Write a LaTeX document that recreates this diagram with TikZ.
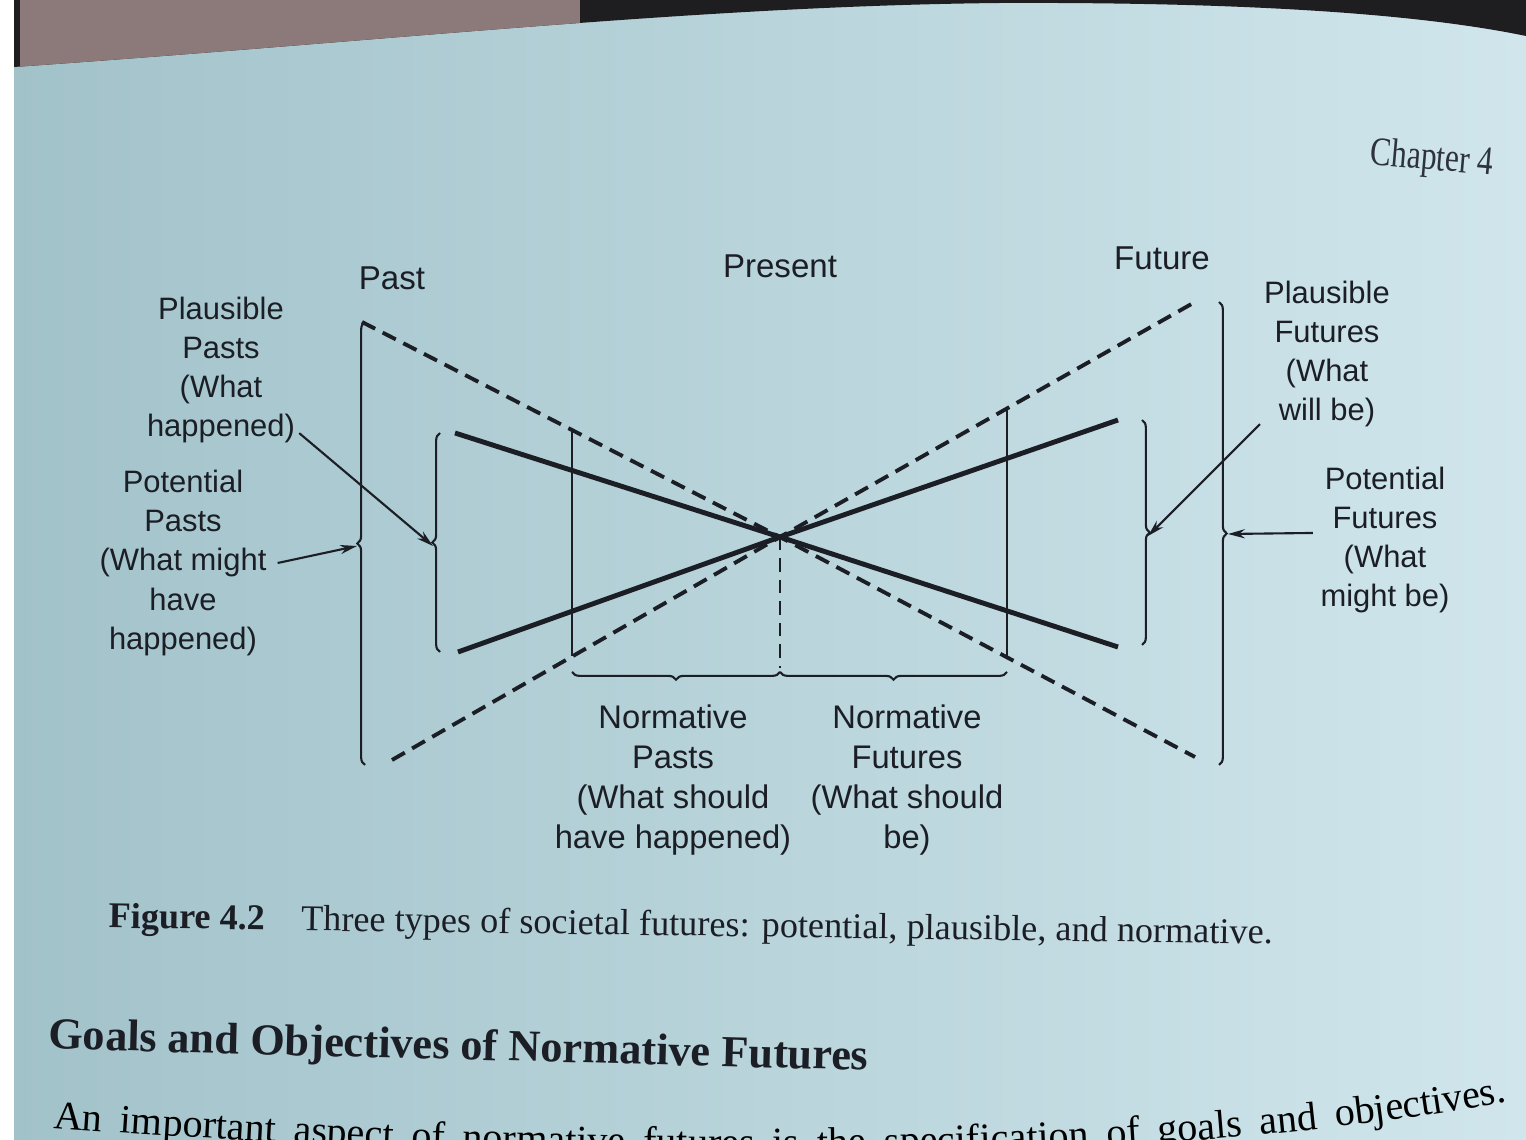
\documentclass[tikz,border=0pt]{standalone}
\usepackage{fontspec}
\setmainfont{Liberation Serif}
\setsansfont{Liberation Sans}
\usepackage{graphicx}
\usepackage{tikz}
\usetikzlibrary{calc,arrows.meta,decorations.pathreplacing,decorations.text,positioning}
\definecolor{inkA}{RGB}{28,30,38}
\definecolor{inkB}{RGB}{45,50,60}
\definecolor{pageA}{RGB}{162,194,202}
\definecolor{pageB}{RGB}{208,230,236}
\definecolor{tableA}{RGB}{140,122,122}
\definecolor{darkA}{RGB}{30,30,33}

\tikzset{
  lbl/.style={font=\sffamily\fontsize{8.8}{11.1}\selectfont, align=center, inner sep=1pt, text=inkA},
  nlbl/.style={lbl, font=\sffamily\fontsize{9.3}{11.4}\selectfont},
  timelbl/.style={font=\sffamily\fontsize{9.4}{11}\selectfont, inner sep=1pt, text=inkA},
  potcone/.style={draw=inkA, line width=1.1pt, dash pattern=on 4.2pt off 2.4pt},
  plcone/.style={draw=inkA, line width=1.4pt},
  normline/.style={draw=inkA, line width=0.6pt},
  brc/.style={draw=inkA, line width=0.6pt, decorate, decoration={brace, amplitude=2.2pt}},
  arr/.style={draw=inkA, line width=0.6pt, -{Stealth[length=4.8pt, width=2.6pt]}}
}

\begin{document}
\begin{tikzpicture}[x=0.01cm, y=-0.01cm]
      \useasboundingbox (0,0) rectangle (1526,1140);
      \clip (0,0) rectangle (1526,1140);

      % Photo background: page, table and book edge
      \fill[white] (0,0) rectangle (1526,1140);
      \shade[left color=pageA, right color=pageB] (14,0) rectangle (1526,1140);
      \fill[darkA] (14,0) -- (1526,0) -- (1526,36)
        .. controls (1420,14) and (1250,2) .. (1000,3)
        .. controls (700,6) and (400,40) .. (14,67) -- cycle;
      \begin{scope}
      \clip (14,0) -- (1526,0) -- (1526,36)
        .. controls (1420,14) and (1250,2) .. (1000,3)
        .. controls (700,6) and (400,40) .. (14,67) -- cycle;
      \fill[tableA] (20,0) rectangle (580,80);
      \end{scope}

      % Chapter header
      \node[text=inkB, font=\fontsize{11.5}{13}\selectfont, rotate=-5] (chap) at (1432,160) {\scalebox{0.78}[1]{Chapter 4}};

      % Present point and cone ends
      \coordinate (now) at (780,537);
      \coordinate (potA1) at (362,322);
      \coordinate (potA2) at (1195,757);
      \coordinate (potB1) at (392,760);
      \coordinate (potB2) at (1195,302);
      \coordinate (plA1) at (455,433);
      \coordinate (plA2) at (1118,647);
      \coordinate (plB1) at (458,652);
      \coordinate (plB2) at (1118,420);

      % Potential cone (dashed) and plausible cone (solid)
      \draw[potcone] (potA1) -- (now) -- (potA2);
      \draw[potcone] (potB1) -- (now) -- (potB2);
      \draw[plcone] (plA1) -- (now) -- (plA2);
      \draw[plcone] (plB1) -- (now) -- (plB2);

      % Normative window
      \draw[normline] (572,430) -- (572,656);
      \draw[normline] (1007,409) -- (1007,657);
      \draw[normline, dash pattern=on 3.8pt off 2.3pt] (now) -- (780,668);
      \draw[brc] (780,672) -- (572,672);
      \draw[brc] (1007,672) -- (780,672);

      % Braces at the sides
      \draw[brc] (365,765) -- (365,322);
      \draw[brc] (440,652) -- (440,433);
      \draw[brc] (1142,420) -- (1142,645);
      \draw[brc] (1219,302) -- (1219,765);
      \coordinate (ptpastTip) at (357,546);
      \coordinate (plpastTip) at (433,546);
      \coordinate (plfutTip) at (1148,536);
      \coordinate (ptfutTip) at (1228,534);

      % Time labels
      \node[timelbl] (past) at (392,278) {Past};
      \node[timelbl] (present) at (780,266) {Present};
      \node[timelbl] (future) at (1162,258) {Future};

      % Side labels
      \node[lbl] (plpast) at (221,370) {Plausible\\Pasts\\(What\\happened)};
      \node[lbl] (ptpast) at (183,563) {Potential\\Pasts\\(What might\\have\\happened)};
      \node[lbl] (plfut) at (1327,354) {Plausible\\Futures\\(What\\will be)};
      \node[lbl] (ptfut) at (1385,540) {Potential\\Futures\\(What\\might be)};

      \draw[arr] ([yshift=4pt]plpast.south east) -- (plpastTip);
      \draw[arr] ([xshift=2pt]ptpast.east) -- (ptpastTip);
      \draw[arr] ([yshift=2pt]plfut.south west) -- (plfutTip);
      \draw[arr] ([xshift=-1pt,yshift=2pt]ptfut.west) -- (ptfutTip);

      % Normative labels
      \node[nlbl] (nmpast) at (673,780) {Normative\\Pasts\\(What should\\have happened)};
      \node[nlbl] (nmfut) at (907,780) {Normative\\Futures\\(What should\\be)};

      % Caption, heading and body text of the page
      \node[anchor=west, text=inkA, font=\fontsize{10.3}{12}\selectfont, inner sep=0pt, rotate=-0.8] (caption) at (108,919)
        {\textbf{Figure 4.2}\quad Three types of societal futures: potential, plausible, and normative.};
      \node[anchor=west, text=inkA, font=\bfseries\fontsize{12.6}{15}\selectfont, inner sep=0pt, rotate=-1.5] (heading) at (48,1038)
        {Goals and Objectives of Normative Futures};
      \path[decorate, decoration={text along path, text align={fit to path stretching spaces},
        text={|\fontsize{11.4}{13}\selectfont|An important aspect of normative futures is the specification of goals and objectives.}}]
        (53,1128) .. controls (600,1168) and (1150,1168) .. (1505,1102);
\end{tikzpicture}
\end{document}
